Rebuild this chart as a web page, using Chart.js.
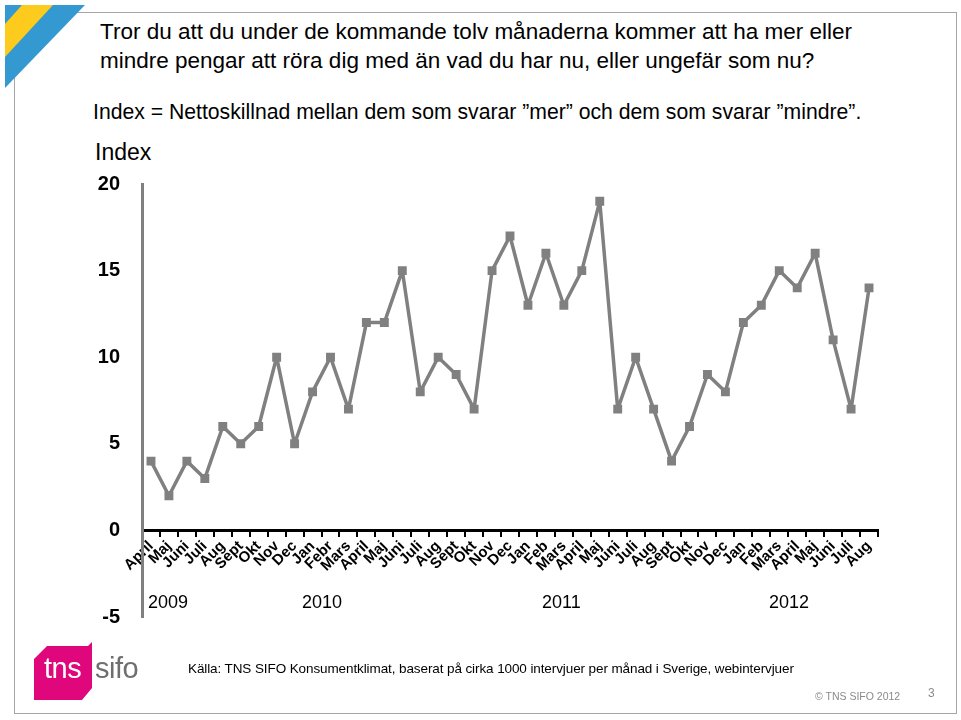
<!DOCTYPE html>
<html>
<head>
<meta charset="utf-8">
<script src="https://cdn.jsdelivr.net/npm/chart.js@4"></script>
<style>
  html, body { margin: 0; padding: 0; background: #fff; }
  body { width: 961px; height: 720px; position: relative; overflow: hidden; font-family: "Liberation Sans", Arial, sans-serif; }
  .t { position: absolute; white-space: nowrap; color: #000; }
  #frame { position: absolute; left: 14px; top: 12px; width: 943px; height: 702px; border: 1.5px solid #a6a6a6; box-sizing: border-box; }
  #wrap { position: absolute; left: 0; top: 0; width: 961px; height: 720px; }
</style>
</head>
<body>
<div id="frame"></div>
<svg style="position:absolute;left:0;top:0" width="100" height="100">
  <polygon points="5,5 85,5 5,88" fill="#3499d0"/>
  <polygon points="22,5 53,5 5,57 5,24" fill="#fccb1d"/>
</svg>
<div class="t" style="left:100px;top:17px;font-size:22.5px;line-height:29px;">Tror du att du under de kommande tolv månaderna kommer att ha mer eller<br>mindre pengar att röra dig med än vad du har nu, eller ungefär som nu?</div>
<div class="t" style="left:93px;top:100px;font-size:21.2px;">Index = Nettoskillnad mellan dem som svarar ”mer” och dem som svarar ”mindre”.</div>
<div class="t" style="left:95px;top:139px;font-size:23px;">Index</div>
<div id="wrap"><canvas id="c" width="961" height="720"></canvas></div>
<div id="years"></div>
<svg style="position:absolute;left:30px;top:640px" width="70" height="65">
  <polygon points="17,6 58,6 62,2 62,48 52,60 4,60 4,19" fill="#e0067c"/>
</svg>
<div class="t" style="left:44px;top:652px;font-size:29px;color:#fff;letter-spacing:-0.5px;">tns</div>
<div class="t" style="left:95px;top:652px;font-size:29px;color:#6f6f6f;letter-spacing:-0.5px;">sifo</div>
<div class="t" style="left:188px;top:661px;font-size:13.5px;letter-spacing:-0.1px;">Källa: TNS SIFO Konsumentklimat, baserat på cirka 1000 intervjuer per månad i Sverige, webintervjuer</div>
<div class="t" style="left:815px;top:690px;font-size:10.5px;color:#8a8a8a;">© TNS SIFO 2012</div>
<div class="t" style="left:928px;top:686px;font-size:12px;color:#8a8a8a;">3</div>
<script>
const months = [
  "April","Maj","Juni","Juli","Aug","Sept","Okt","Nov","Dec",
  "Jan","Febr","Mars","April","Maj","Juni","Juli","Aug","Sept","Okt","Nov","Dec",
  "Jan","Feb","Mars","April","Maj","Juni","Juli","Aug","Sept","Okt","Nov","Dec",
  "Jan","Feb","Mars","April","Maj","Juni","Juli","Aug"
];
const indexValues = [
  4, 2, 4, 3, 6, 5, 6, 10, 5,
  8, 10, 7, 12, 12, 15, 8, 10, 9, 7, 15, 17,
  13, 16, 13, 15, 19, 7, 10, 7, 4, 6, 9, 8,
  12, 13, 15, 14, 16, 11, 7, 14
];
const yearLabels = ["2009", "2010", "2011", "2012"];
const yearLeft = [148, 302, 542, 769];
const yTickValues = [-5, 0, 5, 10, 15, 20];

const yearsDiv = document.getElementById('years');
yearLabels.forEach((y, i) => {
  const d = document.createElement('div');
  d.className = 't';
  d.style.cssText = `left:${yearLeft[i]}px;top:592px;font-size:18px;`;
  d.textContent = y;
  yearsDiv.appendChild(d);
});

const Y_W = 60;
new Chart(document.getElementById('c'), {
  type: 'line',
  data: {
    labels: months,
    datasets: [{
      data: indexValues,
      borderColor: '#808080',
      backgroundColor: '#808080',
      borderWidth: 3.5,
      borderJoinStyle: 'round',
      pointStyle: 'rect',
      pointRadius: 6.3,
      pointBorderWidth: 0,
      tension: 0,
      fill: false
    }]
  },
  options: {
    responsive: false,
    animation: false,
    layout: { padding: { left: 142 - Y_W, right: 961 - 878, top: 184, bottom: 720 - 617 } },
    plugins: { legend: { display: false }, tooltip: { enabled: false } },
    scales: {
      x: {
        type: 'category',
        position: { y: 0 },
        offset: true,
        grid: { display: true, drawOnChartArea: false, drawTicks: true, tickLength: 5, color: '#000', lineWidth: 2, offset: true },
        border: { display: true, color: '#000', width: 3 },
        ticks: {
          autoSkip: false, maxRotation: 45, minRotation: 45, padding: 2,
          color: '#000', font: { family: '"Liberation Sans", Arial, sans-serif', size: 15, weight: 'bold' }
        }
      },
      y: {
        min: -5, max: 20,
        afterBuildTicks: (s) => { s.ticks = yTickValues.map(v => ({ value: v })); },
        afterFit: (s) => { s.width = Y_W; },
        grid: { display: true, drawOnChartArea: false, drawTicks: false },
        border: { display: true, color: '#808080', width: 3 },
        ticks: {
          padding: 22, color: '#000',
          font: { family: '"Liberation Sans", Arial, sans-serif', size: 20, weight: 'bold' }
        }
      }
    }
  }
});
</script>
</body>
</html>
